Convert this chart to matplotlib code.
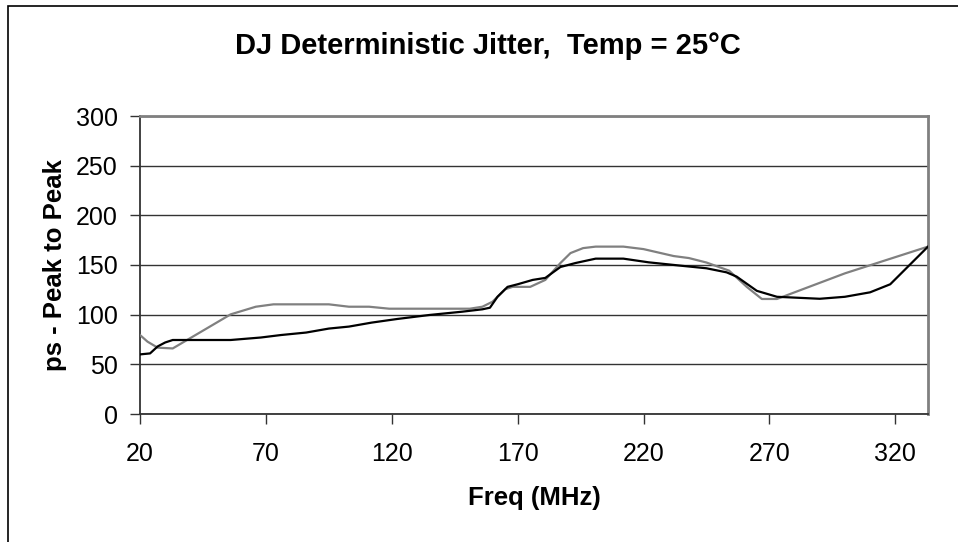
"""
DJ Deterministic Jitter vs frequency, Temp = 25°C
"""

import matplotlib.pyplot as plt
from matplotlib.patches import Rectangle

# black curve
black_freq = [20, 24, 27, 30, 33, 56, 68, 76, 86, 95, 103, 112, 122, 135, 148, 156, 159,
              162, 166, 170, 176, 181, 187, 193, 201, 212, 222, 236, 245, 253, 257, 265,
              273, 290, 300, 310, 318, 333]
black_val = [60, 61, 68, 72, 74.5, 74.5, 77, 79.5, 82, 86, 88, 92, 95.6, 99.7, 103, 105.4, 107,
             118, 128, 130.6, 135, 137, 148, 152, 156.4, 156.4, 152.7, 149, 146.7, 142.6, 138.3, 124,
             118, 116, 118, 122.5, 130.6, 168.5]

# gray curve
gray_freq = [20, 23, 27, 33, 56, 66, 73, 95, 103, 111, 119, 151, 156, 160, 165, 168, 175,
             181, 187, 191, 196, 201, 212, 220, 232, 238, 245, 254, 261, 267, 273, 300, 333]
gray_val = [79.5, 72.8, 66.8, 66, 100.3, 108, 110.4, 110.4, 108, 108, 106, 106, 108, 113, 125.5, 128, 128,
            135, 152, 162, 167, 168.5, 168.5, 166, 159, 157, 152.5, 144.3, 128, 115.8, 115.8, 141.6, 168.5]

x_ticks = [20, 70, 120, 170, 220, 270, 320]
y_ticks = [0, 50, 100, 150, 200, 250, 300]

plt.rcParams['font.family'] = ['Liberation Sans', 'DejaVu Sans']

fig = plt.figure(figsize=(9.58, 5.42), dpi=100)
ax = fig.add_axes([140 / 958, 1 - 414 / 542, 788 / 958, 298 / 542])

# рамка вокруг всей диаграммы (видны только верх и левый край)
fig.patches.append(Rectangle((8 / 958, -0.1), 1.2, 1 - 6 / 542 + 0.1, transform=fig.transFigure,
                             fill=False, edgecolor='black', linewidth=1.2))

ax.plot(gray_freq, gray_val, color='#808080', linewidth=1.6, zorder=3)
ax.plot(black_freq, black_val, color='black', linewidth=1.6, zorder=4)

ax.set_xlim(20, 333)
ax.set_ylim(0, 300)
ax.set_xticks(x_ticks)
ax.set_yticks(y_ticks)
ax.tick_params(labelsize=18, direction='out', length=7, width=1, color='#333333', pad=9)
ax.tick_params(axis='x', pad=13)
ax.grid(True, axis='y', color='#333333', linewidth=1)
ax.set_axisbelow(True)

for side in ['top', 'right']:
    ax.spines[side].set_color('#808080')
    ax.spines[side].set_linewidth(2)
for side in ['left', 'bottom']:
    ax.spines[side].set_color('#333333')
    ax.spines[side].set_linewidth(1.3)

fig.text(488 / 958, 1 - 46 / 542, 'DJ Deterministic Jitter,  Temp = 25°C', ha='center', va='center',
         fontsize=21, fontweight='bold')
fig.text(534 / 958, 1 - 498 / 542, 'Freq (MHz)', ha='center', va='center', fontsize=18.5, fontweight='bold')
fig.text(55 / 958, 1 - 265 / 542, 'ps - Peak to Peak', ha='center', va='center', rotation=90,
         fontsize=18.5, fontweight='bold')

plt.savefig('out.png', dpi=100)
